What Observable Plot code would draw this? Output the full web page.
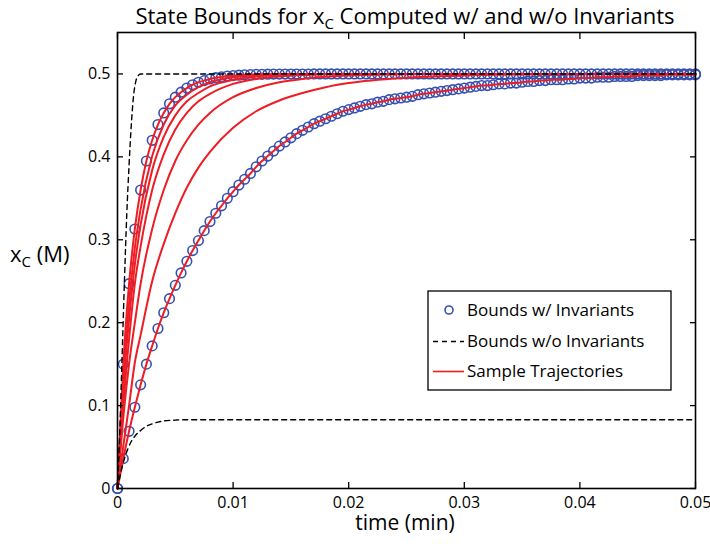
<!DOCTYPE html>
<html>
<head>
<meta charset="utf-8">
<script src="https://cdn.jsdelivr.net/npm/d3@7"></script>
<script src="https://cdn.jsdelivr.net/npm/@observablehq/plot@0.6"></script>
<style>
  html, body { margin: 0; padding: 0; background: #fff; }
  #chart { width: 710px; height: 546px; }
</style>
</head>
<body>
<div id="chart"></div>
<script>
// ---------------- DATA ----------------
const xTicks = [0, 0.01, 0.02, 0.03, 0.04, 0.05];
const yTicks = [0, 0.1, 0.2, 0.3, 0.4, 0.5];

// Sample times of the circle markers (every 0.0005 min)
const tCircle = [
  0, 0.0005, 0.001, 0.0015, 0.002, 0.0025, 0.003, 0.0035, 0.004, 0.0045,
  0.005, 0.0055, 0.006, 0.0065, 0.007, 0.0075, 0.008, 0.0085, 0.009, 0.0095,
  0.01, 0.0105, 0.011, 0.0115, 0.012, 0.0125, 0.013, 0.0135, 0.014, 0.0145,
  0.015, 0.0155, 0.016, 0.0165, 0.017, 0.0175, 0.018, 0.0185, 0.019, 0.0195,
  0.02, 0.0205, 0.021, 0.0215, 0.022, 0.0225, 0.023, 0.0235, 0.024, 0.0245,
  0.025, 0.0255, 0.026, 0.0265, 0.027, 0.0275, 0.028, 0.0285, 0.029, 0.0295,
  0.03, 0.0305, 0.031, 0.0315, 0.032, 0.0325, 0.033, 0.0335, 0.034, 0.0345,
  0.035, 0.0355, 0.036, 0.0365, 0.037, 0.0375, 0.038, 0.0385, 0.039, 0.0395,
  0.04, 0.0405, 0.041, 0.0415, 0.042, 0.0425, 0.043, 0.0435, 0.044, 0.0445,
  0.045, 0.0455, 0.046, 0.0465, 0.047, 0.0475, 0.048, 0.0485, 0.049, 0.0495,
  0.05
];
// Upper bound with invariants (circles)
const upperInv = [
  0, 0.150, 0.247, 0.313, 0.360, 0.395, 0.420, 0.439, 0.453, 0.464,
  0.472, 0.478, 0.483, 0.487, 0.490, 0.492, 0.494, 0.4955, 0.4965, 0.4975,
  0.498, 0.4985, 0.499, 0.4993, 0.4995, 0.4996, 0.4997, 0.4998, 0.4998, 0.4999,
  0.4999, 0.4999, 0.4999, 0.4999, 0.5, 0.5, 0.5, 0.5, 0.5, 0.5,
  0.5, 0.5, 0.5, 0.5, 0.5, 0.5, 0.5, 0.5, 0.5, 0.5,
  0.5, 0.5, 0.5, 0.5, 0.5, 0.5, 0.5, 0.5, 0.5, 0.5,
  0.5, 0.5, 0.5, 0.5, 0.5, 0.5, 0.5, 0.5, 0.5, 0.5,
  0.5, 0.5, 0.5, 0.5, 0.5, 0.5, 0.5, 0.5, 0.5, 0.5,
  0.5, 0.5, 0.5, 0.5, 0.5, 0.5, 0.5, 0.5, 0.5, 0.5,
  0.5, 0.5, 0.5, 0.5, 0.5, 0.5, 0.5, 0.5, 0.5, 0.5,
  0.5
];
// Lower bound with invariants (circles)
const lowerInv = [
  0, 0.036, 0.069, 0.098, 0.125, 0.150, 0.172, 0.193, 0.212, 0.229,
  0.245, 0.260, 0.274, 0.287, 0.299, 0.311, 0.322, 0.332, 0.341, 0.350,
  0.358, 0.366, 0.373, 0.380, 0.388, 0.395, 0.401, 0.407, 0.413, 0.418,
  0.423, 0.428, 0.432, 0.436, 0.440, 0.443, 0.446, 0.449, 0.452, 0.455,
  0.457, 0.459, 0.461, 0.463, 0.464, 0.466, 0.467, 0.469, 0.470, 0.471,
  0.472, 0.473, 0.475, 0.476, 0.477, 0.478, 0.479, 0.480, 0.481, 0.482,
  0.483, 0.484, 0.485, 0.486, 0.486, 0.487, 0.488, 0.488, 0.489, 0.489,
  0.490, 0.491, 0.491, 0.492, 0.492, 0.493, 0.493, 0.493, 0.494, 0.494,
  0.495, 0.495, 0.495, 0.496, 0.496, 0.496, 0.497, 0.497, 0.497, 0.497,
  0.498, 0.498, 0.498, 0.498, 0.498, 0.499, 0.499, 0.499, 0.499, 0.499,
  0.499
];

// Bounds without invariants (dashed)
const tUpperNoInv = [0, 0.0002, 0.0004, 0.0006, 0.0008, 0.001, 0.0012, 0.0014, 0.0016, 0.0018, 0.002, 0.05];
const upperNoInv  = [0, 0.07,   0.16,   0.25,   0.33,   0.39,  0.44,   0.475,  0.492,  0.498,  0.5,   0.5];
const tLowerNoInv = [0, 0.0003, 0.0006, 0.0009, 0.0012, 0.0015, 0.002, 0.0025, 0.003, 0.0035, 0.004, 0.005, 0.006, 0.008, 0.05];
const lowerNoInv  = [0, 0.020,  0.036,  0.048,  0.057,  0.063,  0.070, 0.075,  0.078, 0.080,  0.0815, 0.0825, 0.083, 0.083, 0.083];

// Intermediate sample trajectories (red)
const tSample = [0, 0.0005, 0.001, 0.0015, 0.002, 0.003, 0.004, 0.005, 0.006, 0.007, 0.008, 0.01, 0.012, 0.014, 0.016, 0.018, 0.02, 0.025, 0.03, 0.035, 0.04, 0.045, 0.05];
const sample1 = [0, 0.133, 0.223, 0.290, 0.337, 0.401, 0.439, 0.462, 0.475, 0.484, 0.490, 0.496, 0.4985, 0.4995, 0.4997, 0.4999, 0.5, 0.5, 0.5, 0.5, 0.5, 0.5, 0.5];
const sample2 = [0, 0.120, 0.204, 0.270, 0.318, 0.384, 0.424, 0.450, 0.467, 0.477, 0.485, 0.493, 0.497, 0.499, 0.4995, 0.4998, 0.4999, 0.5, 0.5, 0.5, 0.5, 0.5, 0.5];
const sample3 = [0, 0.100, 0.180, 0.247, 0.292, 0.360, 0.403, 0.433, 0.453, 0.467, 0.476, 0.488, 0.494, 0.497, 0.4987, 0.4995, 0.4997, 0.4999, 0.5, 0.5, 0.5, 0.5, 0.5];
const sample4 = [0, 0.085, 0.150, 0.200, 0.247, 0.313, 0.360, 0.395, 0.420, 0.439, 0.453, 0.472, 0.483, 0.490, 0.494, 0.4965, 0.498, 0.4996, 0.4999, 0.5, 0.5, 0.5, 0.5];
const sample5 = [0, 0.051, 0.100, 0.152, 0.185, 0.250, 0.295, 0.332, 0.363, 0.387, 0.406, 0.435, 0.455, 0.468, 0.477, 0.484, 0.489, 0.4955, 0.4982, 0.4994, 0.4997, 0.4999, 0.5];

const legendLabels = ["Bounds w/ Invariants", "Bounds w/o Invariants", "Sample Trajectories"];

// ---------------- TABLES ----------------
const circleColor = "#3650b0";
const redColor = "#ee1c24";
const circlePts = [
  ...tCircle.map((t, i) => ({t, v: upperInv[i], s: "upper"})),
  ...tCircle.map((t, i) => ({t, v: lowerInv[i], s: "lower"}))
];
const dashed = [
  ...tUpperNoInv.map((t, i) => ({t, v: upperNoInv[i], s: "upper"})),
  ...tLowerNoInv.map((t, i) => ({t, v: lowerNoInv[i], s: "lower"}))
];
const samples = [
  ...tCircle.map((t, i) => ({t, v: upperInv[i], s: "U"})),
  ...[sample1, sample2, sample3, sample4, sample5].flatMap((arr, k) => tSample.map((t, i) => ({t, v: arr[i], s: "c" + k}))),
  ...tCircle.map((t, i) => ({t, v: lowerInv[i], s: "L"}))
];

// ---------------- PLOT ----------------
const FONT = "'Open Sans', sans-serif";
const TICK = 6;
const chart = Plot.plot({
  width: 710,
  height: 546,
  marginLeft: 117,
  marginRight: 15,
  marginTop: 32,
  marginBottom: 58,
  style: {fontFamily: FONT, fontSize: "16px", background: "white", color: "black", overflow: "visible"},
  x: {domain: [0, 0.05]},
  y: {domain: [0, 0.55]},
  marks: [
    Plot.dot(circlePts, {x: "t", y: "v", r: 4.8, stroke: circleColor, strokeWidth: 1.6, fill: "none"}),
    Plot.line(samples, {x: "t", y: "v", z: "s", stroke: redColor, strokeWidth: 2, curve: "monotone-x"}),
    Plot.line(dashed, {x: "t", y: "v", z: "s", stroke: "black", strokeWidth: 1.4, strokeDasharray: "5,4", curve: "monotone-x"}),
    Plot.frame({stroke: "black", strokeWidth: 1.6}),
    // tick labels
    Plot.axisX(xTicks, {anchor: "bottom", tickSize: 0, tickPadding: 8, label: null, tickFormat: d => String(d), fontSize: 16}),
    Plot.axisY(yTicks, {anchor: "left", tickSize: 0, tickPadding: 7, label: null, tickFormat: d => String(d), fontSize: 16}),
    // inward ticks on all four sides
    Plot.axisX(xTicks, {anchor: "bottom", tickSize: TICK, dy: -TICK, label: null, tickFormat: () => "", strokeWidth: 1.3}),
    Plot.axisX(xTicks, {anchor: "top", tickSize: TICK, dy: TICK, label: null, tickFormat: () => "", strokeWidth: 1.3}),
    Plot.axisY(yTicks, {anchor: "left", tickSize: TICK, dx: TICK, label: null, tickFormat: () => "", strokeWidth: 1.3}),
    Plot.axisY(yTicks, {anchor: "right", tickSize: TICK, dx: -TICK, label: null, tickFormat: () => "", strokeWidth: 1.3})
  ]
});
document.getElementById("chart").appendChild(chart);

// ---------------- TEXT & LEGEND ----------------
const svg = d3.select(chart);
const title = svg.append("text")
  .attr("x", 405).attr("y", 24).attr("text-anchor", "middle")
  .attr("font-family", FONT).attr("font-size", 22).attr("fill", "black");
title.append("tspan").text("State Bounds for x");
title.append("tspan").attr("dy", 5).attr("font-size", 15).text("C");
title.append("tspan").attr("dy", -5).text(" Computed w/ and w/o Invariants");

const ylab = svg.append("text")
  .attr("x", 10).attr("y", 262).attr("text-anchor", "start")
  .attr("font-family", FONT).attr("font-size", 22).attr("fill", "black");
ylab.append("tspan").text("x");
ylab.append("tspan").attr("dy", 5).attr("font-size", 15).text("C");
ylab.append("tspan").attr("dy", -5).text(" (M)");

svg.append("text")
  .attr("x", 405).attr("y", 530).attr("text-anchor", "middle")
  .attr("font-family", FONT).attr("font-size", 21).attr("fill", "black")
  .text("time (min)");

const lg = svg.append("g").attr("font-family", FONT).attr("font-size", 17).attr("text-anchor", "start");
lg.append("rect").attr("x", 428).attr("y", 291).attr("width", 243).attr("height", 99)
  .attr("fill", "white").attr("stroke", "black").attr("stroke-width", 1.3);
lg.append("circle").attr("cx", 449).attr("cy", 310).attr("r", 4).attr("fill", "none")
  .attr("stroke", circleColor).attr("stroke-width", 1.6);
lg.append("line").attr("x1", 433).attr("x2", 464).attr("y1", 341.5).attr("y2", 341.5)
  .attr("stroke", "black").attr("stroke-width", 1.3).attr("stroke-dasharray", "5,4");
lg.append("line").attr("x1", 433).attr("x2", 464).attr("y1", 371.5).attr("y2", 371.5)
  .attr("stroke", redColor).attr("stroke-width", 1.6);
[316, 347, 377].forEach((y, i) => {
  lg.append("text").attr("x", 467).attr("y", y).attr("fill", "black").text(legendLabels[i]);
});
</script>
</body>
</html>
